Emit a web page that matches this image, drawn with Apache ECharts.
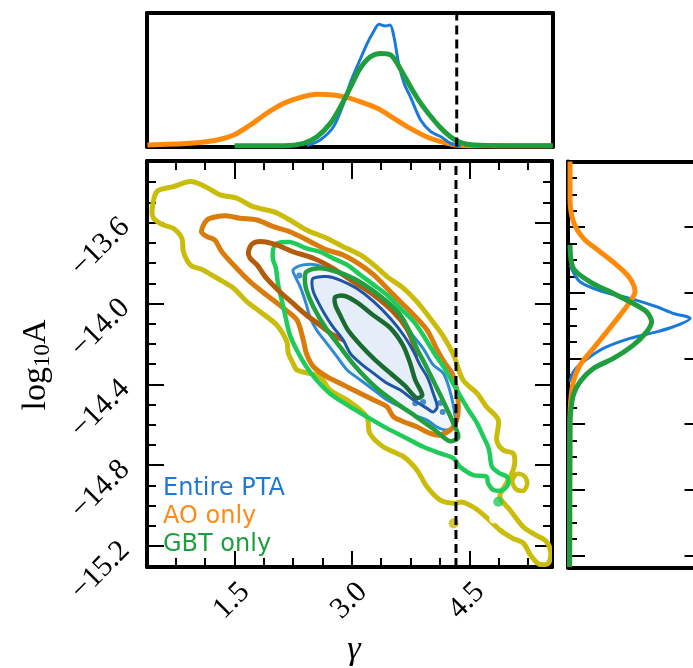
<!DOCTYPE html>
<html>
<head>
<meta charset="utf-8">
<script src="https://cdn.jsdelivr.net/npm/echarts@6.0.0/dist/echarts.min.js"></script>
<style>
  html, body { margin: 0; padding: 0; background: #fff; }
  #chart { width: 693px; height: 668px; }
</style>
</head>
<body>
<div id="chart"></div>
<script>
// ---- data ----
var trueGamma = 4.33;

// tick values
var gammaMajor = [1.5, 3.0, 4.5];
var gammaMinor = [0.75, 1.125, 1.875, 2.25, 2.625, 3.375, 3.75, 4.125, 4.875, 5.25];
var ampMajor = [-15.2, -14.8, -14.4, -14.0, -13.6];
var ampMinor = [-15.3, -15.1, -15.0, -14.9, -14.7, -14.6, -14.5, -14.3, -14.2, -14.1, -13.9, -13.8, -13.7, -13.5, -13.4, -13.3];
var sideMajor = [-15.6, -15.2, -14.8, -14.4, -14.0, -13.6, -13.2];
var sideMinor = [-15.5, -15.4, -15.3, -15.1, -15.0, -14.9, -14.7, -14.6, -14.5, -14.3, -14.2, -14.1, -13.9, -13.8, -13.7, -13.5, -13.4, -13.3];

// top marginal: [gamma, density]
var topOrange = [[0.39,0.012],[0.93,0.024],[1.28,0.049],[1.49,0.086],[1.70,0.161],[1.91,0.249],[2.13,0.324],[2.34,0.368],[2.55,0.391],[2.76,0.386],[2.93,0.368],[3.10,0.336],[3.32,0.286],[3.53,0.211],[3.74,0.136],[3.96,0.069],[4.17,0.029],[4.32,0.011],[4.55,0.006],[5.55,0.006]];
var topGreen = [[1.50,0.006],[2.13,0.006],[2.38,0.024],[2.55,0.073],[2.72,0.173],[2.85,0.298],[2.98,0.448],[3.10,0.585],[3.23,0.672],[3.36,0.697],[3.49,0.685],[3.62,0.573],[3.74,0.448],[3.87,0.325],[4.00,0.225],[4.13,0.137],[4.25,0.073],[4.38,0.029],[4.55,0.011],[4.98,0.006],[5.55,0.006]];
var topBlue = [[2.42,0.006],[2.59,0.049],[2.76,0.148],[2.89,0.324],[2.98,0.486],[3.06,0.598],[3.19,0.773],[3.27,0.86],[3.34,0.915],[3.42,0.903],[3.48,0.91],[3.53,0.822],[3.59,0.622],[3.66,0.472],[3.74,0.372],[3.87,0.199],[4.00,0.111],[4.13,0.073],[4.25,0.024],[4.38,0.006]];

// right marginal: [density, log10A]
var sideOrange = [[0.015,-13.20],[0.015,-13.364],[0.015,-13.425],[0.041,-13.567],[0.116,-13.668],[0.24,-13.750],[0.365,-13.831],[0.464,-13.912],[0.502,-13.994],[0.464,-14.055],[0.39,-14.136],[0.29,-14.238],[0.19,-14.339],[0.09,-14.441],[0.04,-14.542],[0.02,-14.664],[0.015,-14.786],[0.012,-15.67]];
var sideGreen = [[0.015,-13.709],[0.04,-13.851],[0.165,-13.933],[0.315,-13.994],[0.464,-14.055],[0.589,-14.116],[0.626,-14.177],[0.589,-14.238],[0.489,-14.319],[0.34,-14.40],[0.19,-14.461],[0.09,-14.542],[0.04,-14.623],[0.02,-14.725],[0.015,-14.786],[0.012,-15.67]];
var sideBlue = [[0.015,-13.831],[0.09,-13.933],[0.265,-13.994],[0.464,-14.034],[0.664,-14.085],[0.789,-14.126],[0.914,-14.156],[0.789,-14.207],[0.664,-14.238],[0.464,-14.278],[0.265,-14.339],[0.115,-14.420],[0.04,-14.481],[0.015,-14.542]];

// 2D contours: [gamma, log10A]
var yellowOuter = [[0.45,-13.537],[0.51,-13.447],[0.72,-13.422],[0.94,-13.397],[1.13,-13.422],[1.32,-13.463],[1.53,-13.479],[1.74,-13.521],[2.00,-13.546],[2.21,-13.587],[2.42,-13.636],[2.68,-13.677],[2.89,-13.719],[3.11,-13.760],[3.28,-13.809],[3.45,-13.867],[3.66,-13.925],[3.83,-13.991],[4.00,-14.073],[4.17,-14.164],[4.30,-14.255],[4.42,-14.379],[4.60,-14.445],[4.72,-14.511],[4.87,-14.577],[4.85,-14.676],[4.93,-14.725],[5.06,-14.742],[5.08,-14.791],[5.04,-14.844],[4.96,-14.899],[4.89,-14.958],[5.02,-15.022],[5.19,-15.106],[5.35,-15.146],[5.48,-15.176],[5.54,-15.230],[5.51,-15.285],[5.39,-15.290],[5.29,-15.250],[5.19,-15.186],[5.05,-15.161],[4.89,-15.121],[4.73,-15.062],[4.57,-15.012],[4.41,-14.983],[4.30,-14.989],[4.13,-14.973],[3.96,-14.907],[3.83,-14.824],[3.66,-14.758],[3.40,-14.709],[3.23,-14.643],[3.19,-14.560],[2.94,-14.478],[2.72,-14.428],[2.59,-14.362],[2.30,-14.329],[2.25,-14.296],[2.19,-14.247],[2.17,-14.189],[2.04,-14.106],[1.83,-14.041],[1.66,-13.991],[1.49,-13.925],[1.28,-13.875],[1.10,-13.834],[0.94,-13.810],[0.85,-13.744],[0.83,-13.677],[0.72,-13.628],[0.59,-13.611],[0.47,-13.578]];
var yellowLoop = [[5.05,-14.88],[5.10,-14.845],[5.19,-14.85],[5.24,-14.885],[5.20,-14.925],[5.10,-14.92]];
var yellowDot = [[4.30,-15.088]];
var orangeOuter = [[1.08,-13.645],[1.15,-13.587],[1.28,-13.570],[1.42,-13.567],[1.57,-13.578],[1.79,-13.587],[2.00,-13.620],[2.21,-13.645],[2.47,-13.694],[2.68,-13.735],[2.89,-13.760],[3.11,-13.809],[3.28,-13.859],[3.45,-13.925],[3.62,-13.991],[3.79,-14.057],[3.96,-14.131],[4.08,-14.222],[4.18,-14.290],[4.28,-14.346],[4.34,-14.428],[4.36,-14.511],[4.34,-14.577],[4.28,-14.618],[4.13,-14.651],[4.00,-14.643],[3.83,-14.610],[3.66,-14.585],[3.53,-14.560],[3.45,-14.511],[3.28,-14.478],[3.02,-14.428],[2.85,-14.395],[2.68,-14.362],[2.51,-14.313],[2.42,-14.247],[2.38,-14.181],[2.30,-14.082],[2.13,-14.024],[1.91,-13.958],[1.70,-13.892],[1.53,-13.826],[1.34,-13.744],[1.25,-13.686],[1.15,-13.669]];
var orangeInner = [[1.68,-13.744],[1.74,-13.702],[1.87,-13.694],[2.04,-13.710],[2.25,-13.744],[2.51,-13.776],[2.76,-13.826],[3.02,-13.892],[3.28,-13.958],[3.53,-14.041],[3.70,-14.123],[3.79,-14.205],[3.81,-14.265],[3.74,-14.290],[3.62,-14.296],[3.45,-14.288],[3.28,-14.263],[3.11,-14.230],[2.94,-14.189],[2.76,-14.156],[2.59,-14.106],[2.42,-14.057],[2.25,-14.000],[2.08,-13.942],[1.91,-13.875],[1.79,-13.809],[1.70,-13.776]];
var greenOuter = [[2.02,-13.710],[2.21,-13.696],[2.42,-13.727],[2.59,-13.744],[2.76,-13.776],[2.94,-13.809],[3.11,-13.859],[3.28,-13.908],[3.45,-13.958],[3.62,-14.024],[3.79,-14.090],[3.91,-14.156],[4.04,-14.239],[4.18,-14.319],[4.34,-14.428],[4.49,-14.527],[4.60,-14.593],[4.68,-14.659],[4.74,-14.709],[4.76,-14.742],[4.79,-14.808],[4.89,-14.841],[4.98,-14.857],[5.00,-14.890],[4.93,-14.923],[4.81,-14.923],[4.74,-14.890],[4.72,-14.857],[4.55,-14.849],[4.38,-14.808],[4.30,-14.766],[4.13,-14.742],[3.91,-14.709],[3.70,-14.667],[3.45,-14.618],[3.19,-14.560],[2.94,-14.502],[2.72,-14.445],[2.55,-14.379],[2.42,-14.313],[2.31,-14.240],[2.21,-14.156],[2.12,-14.007],[2.06,-13.908],[2.03,-13.824],[1.99,-13.775]];
var greenMid = [[2.42,-13.843],[2.59,-13.826],[2.81,-13.843],[3.02,-13.875],[3.23,-13.925],[3.45,-13.991],[3.62,-14.057],[3.74,-14.140],[3.83,-14.222],[3.94,-14.304],[4.13,-14.453],[4.29,-14.587],[4.36,-14.661],[4.25,-14.681],[4.06,-14.626],[3.81,-14.557],[3.55,-14.488],[3.30,-14.413],[3.04,-14.309],[2.85,-14.215],[2.66,-14.116],[2.51,-14.017],[2.42,-13.933],[2.40,-13.879]];
var greenInner = [[2.79,-13.968],[2.91,-13.963],[3.08,-13.998],[3.27,-14.057],[3.49,-14.121],[3.65,-14.205],[3.74,-14.290],[3.81,-14.379],[3.90,-14.453],[3.83,-14.468],[3.68,-14.408],[3.49,-14.344],[3.30,-14.280],[3.11,-14.205],[2.95,-14.131],[2.85,-14.057],[2.79,-14.007]];
var greenDot = [[4.87,-14.981]];
var greenRing = [[4.81,-15.067]];
var blueOuter = [[2.25,-13.834],[2.38,-13.809],[2.55,-13.809],[2.72,-13.834],[2.89,-13.859],[3.11,-13.908],[3.36,-13.974],[3.57,-14.057],[3.74,-14.140],[3.91,-14.222],[4.04,-14.304],[4.17,-14.346],[4.25,-14.428],[4.30,-14.511],[4.32,-14.577],[4.28,-14.618],[4.19,-14.626],[4.08,-14.610],[3.96,-14.577],[3.79,-14.552],[3.62,-14.511],[3.45,-14.478],[3.28,-14.428],[3.11,-14.379],[2.94,-14.329],[2.81,-14.263],[2.68,-14.197],[2.55,-14.131],[2.47,-14.072],[2.42,-14.007],[2.38,-13.958],[2.33,-13.908],[2.28,-13.869]];
var blueInner = [[2.51,-13.875],[2.68,-13.867],[2.85,-13.884],[3.06,-13.925],[3.28,-13.991],[3.49,-14.073],[3.66,-14.156],[3.79,-14.239],[3.87,-14.304],[3.97,-14.369],[4.04,-14.445],[4.09,-14.511],[4.04,-14.537],[3.96,-14.519],[3.79,-14.478],[3.62,-14.428],[3.45,-14.395],[3.28,-14.346],[3.11,-14.296],[2.98,-14.247],[2.89,-14.181],[2.76,-14.116],[2.66,-14.057],[2.57,-13.993],[2.51,-13.943],[2.49,-13.899]];
var blueDots = [[2.33,-13.862],[3.81,-14.494],[3.91,-14.488],[4.13,-14.493],[4.16,-14.537]];

// ---- chart ----
var chart = echarts.init(document.getElementById('chart'), null, { renderer: 'canvas' });

var GX = [0.385, 5.556];   // gamma range of the main panel
var GY = [-15.304, -13.295];
var SY = [-15.674, -13.2]; // log10A range of the side panel

function fmtNum(v) {
  return (v < 0 ? '\u2212' : '') + Math.abs(v).toFixed(1);
}

// one helper for every axis, spine + ticks
function axis(o) {
  return {
    type: 'value',
    gridIndex: o.grid,
    position: o.pos,
    min: o.min,
    max: o.max,
    splitLine: { show: false },
    axisLine: { show: !!o.line, onZero: false, lineStyle: { color: '#000', width: 4 } },
    axisTick: o.ticks ? {
      show: true, inside: true, length: o.len, customValues: o.ticks,
      lineStyle: { color: '#000', width: 2 }
    } : { show: false },
    axisLabel: o.labels ? o.labels : { show: false }
  };
}

var xLabel = {
  show: true, customValues: gammaMajor, rotate: 45, align: 'right', verticalAlign: 'top',
  margin: 10, fontFamily: 'Liberation Serif', fontSize: 30, color: '#000', formatter: fmtNum
};
var yLabel = {
  show: true, customValues: ampMajor, rotate: 45, align: 'right', verticalAlign: 'middle',
  margin: 22, fontFamily: 'Liberation Serif', fontSize: 30, color: '#000', formatter: fmtNum
};

// closed contour drawn through the cartesian scale
function contour(points, color, width, fill, z) {
  return {
    type: 'custom',
    xAxisIndex: 0, yAxisIndex: 0,
    data: points,
    clip: true,
    silent: true,
    z: z,
    renderItem: function (params, api) {
      if (params.dataIndex !== 0) return null;
      var pts = points.map(function (p) { return api.coord(p); });
      return {
        type: 'polygon',
        shape: { points: pts, smooth: 0.3 },
        style: { fill: fill || 'none', stroke: color, lineWidth: width }
      };
    }
  };
}

function dots(points, symbol, size, color, border, z) {
  return {
    type: 'scatter', xAxisIndex: 0, yAxisIndex: 0, data: points, symbol: symbol,
    symbolSize: size, silent: true, z: z,
    itemStyle: { color: symbol === 'emptyCircle' ? 'transparent' : color, borderColor: color, borderWidth: border || 0 }
  };
}

function curve(points, xi, yi, color, width, z) {
  return {
    type: 'line', xAxisIndex: xi, yAxisIndex: yi, data: points, smooth: 0.3,
    showSymbol: false, silent: true, z: z, clip: true,
    lineStyle: { color: color, width: width }
  };
}

var option = {
  animation: false,
  backgroundColor: '#fff',
  grid: [
    { left: 147, top: 161, width: 405, height: 406, outerBoundsMode: 'none', containLabel: false },
    { left: 147, top: 13, width: 406, height: 133.5, outerBoundsMode: 'none', containLabel: false },
    { left: 568, top: 161.5, width: 133.5, height: 406, outerBoundsMode: 'none', containLabel: false }
  ],
  xAxis: [
    axis({ grid: 0, pos: 'bottom', min: GX[0], max: GX[1], line: true, ticks: gammaMajor, len: 16, labels: xLabel }),
    axis({ grid: 0, pos: 'bottom', min: GX[0], max: GX[1], ticks: gammaMinor, len: 9 }),
    axis({ grid: 0, pos: 'top', min: GX[0], max: GX[1], line: true, ticks: gammaMajor, len: 18 }),
    axis({ grid: 0, pos: 'top', min: GX[0], max: GX[1], ticks: gammaMinor, len: 9 }),
    axis({ grid: 1, pos: 'bottom', min: GX[0], max: GX[1], line: true }),
    axis({ grid: 1, pos: 'top', min: GX[0], max: GX[1], line: true }),
    axis({ grid: 2, pos: 'bottom', min: 0, max: 1, line: true }),
    axis({ grid: 2, pos: 'top', min: 0, max: 1, line: true })
  ],
  yAxis: [
    axis({ grid: 0, pos: 'left', min: GY[0], max: GY[1], line: true, ticks: ampMajor, len: 17, labels: yLabel }),
    axis({ grid: 0, pos: 'left', min: GY[0], max: GY[1], ticks: ampMinor, len: 9 }),
    axis({ grid: 0, pos: 'right', min: GY[0], max: GY[1], line: true, ticks: ampMajor, len: 17 }),
    axis({ grid: 0, pos: 'right', min: GY[0], max: GY[1], ticks: ampMinor, len: 9 }),
    axis({ grid: 1, pos: 'left', min: 0, max: 1, line: true }),
    axis({ grid: 1, pos: 'right', min: 0, max: 1, line: true }),
    axis({ grid: 2, pos: 'left', min: SY[0], max: SY[1], line: true, ticks: sideMajor, len: 17 }),
    axis({ grid: 2, pos: 'left', min: SY[0], max: SY[1], ticks: sideMinor, len: 9 }),
    axis({ grid: 2, pos: 'right', min: SY[0], max: SY[1], line: true, ticks: sideMajor, len: 17 })
  ],
  series: [
    // 2D panel
    contour(blueOuter, '#2e8bd0', 3, '#f0f5fb', 2),
    contour(yellowOuter, '#c9bc0a', 5, null, 3),
    contour(yellowLoop, '#c9bc0a', 4.5, null, 3),
    dots(yellowDot, 'circle', 10, '#c9bc0a', 0, 3),
    contour(orangeOuter, '#d97c0c', 5, null, 4),
    contour(greenOuter, '#1fcc5a', 4.5, null, 5),
    dots(greenDot, 'circle', 10, '#1fcc5a', 0, 5),
    dots(greenRing, 'emptyCircle', 9, '#1fcc5a', 3, 5),
    contour(orangeInner, '#b35c0c', 5, null, 6),
    contour(blueInner, '#1f55a5', 3, '#e4edf8', 7),
    dots(blueDots, 'circle', 6, '#1f6fbf', 0, 7),
    contour(greenMid, '#22a03f', 4.5, null, 8),
    contour(greenInner, '#1a6b2f', 4.5, null, 9),
    {
      type: 'line', xAxisIndex: 0, yAxisIndex: 0, silent: true, z: 12, showSymbol: false,
      data: [[trueGamma, GY[0]], [trueGamma, GY[1]]],
      lineStyle: { color: '#000', width: 3, type: [9, 5] }
    },
    // top marginal (gamma)
    curve(topOrange, 4, 4, '#ff8a0a', 5, 3),
    curve(topBlue, 4, 4, '#1a7ad9', 3, 4),
    curve(topGreen, 4, 4, '#1e9e3c', 5, 5),
    {
      type: 'line', xAxisIndex: 4, yAxisIndex: 4, silent: true, z: 12, showSymbol: false,
      data: [[trueGamma, 0], [trueGamma, 1]],
      lineStyle: { color: '#000', width: 3, type: [9, 5] }
    },
    // side marginal (log10 A)
    curve(sideBlue, 6, 6, '#1a7ad9', 3, 3),
    curve(sideOrange, 6, 6, '#ff8a0a', 5, 4),
    curve(sideGreen, 6, 6, '#1e9e3c', 5, 5)
  ],
  graphic: [
    {
      type: 'text', left: 163, top: 477,
      style: { text: 'Entire PTA', fill: '#1f78d4', font: '24px "DejaVu Sans"' }, z: 20
    },
    {
      type: 'text', left: 163, top: 505,
      style: { text: 'AO only', fill: '#ff8a14', font: '24px "DejaVu Sans"' }, z: 20
    },
    {
      type: 'text', left: 163, top: 533,
      style: { text: 'GBT only', fill: '#1f9e3e', font: '24px "DejaVu Sans"' }, z: 20
    },
    {
      type: 'text', x: 36, y: 365, rotation: Math.PI / 2,
      style: {
        text: '{a|log}{s|10}{a|A}', align: 'center', verticalAlign: 'middle',
        rich: {
          a: { fontFamily: 'Liberation Serif', fontSize: 34, fill: '#000' },
          s: { fontFamily: 'Liberation Serif', fontSize: 23, fill: '#000', padding: [14, 0, 0, 0] }
        }
      }
    },
    {
      type: 'text', x: 354, y: 650,
      style: {
        text: '\u03b3', align: 'center', verticalAlign: 'middle',
        font: 'italic 34px "Liberation Serif"', fill: '#000'
      }
    }
  ]
};

chart.setOption(option);
</script>
</body>
</html>
